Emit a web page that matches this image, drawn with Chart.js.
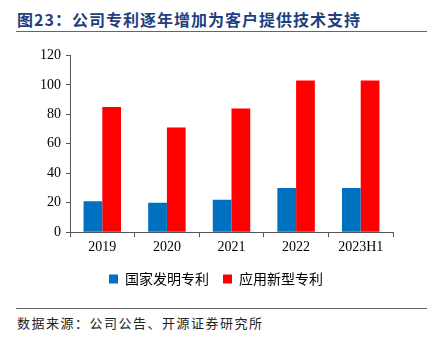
<!DOCTYPE html>
<html>
<head>
<meta charset="utf-8">
<script src="https://cdn.jsdelivr.net/npm/chart.js@4"></script>
<style>
  body { margin: 0; width: 432px; height: 338px; background: #fff; position: relative; overflow: hidden; }
  .title { position: absolute; left: 17px; top: 7px; font: bold 16px "Noto Sans CJK SC"; color: #1f3f7f; letter-spacing: 1px; }
  .rule { position: absolute; left: 16px; width: 411px; height: 1px; background: #666; }
  .source { position: absolute; left: 17px; top: 313px; font: 13px "Noto Sans CJK SC"; color: #222; letter-spacing: 1.5px; }
  #wrap { position: absolute; left: 0; top: 42px; width: 432px; height: 254px; }
</style>
</head>
<body>
<div class="title">图23：公司专利逐年增加为客户提供技术支持</div>
<div class="rule" style="top:31px"></div>
<div id="wrap"><canvas id="c"></canvas></div>
<div class="rule" style="top:308px"></div>
<div class="source">数据来源：公司公告、开源证券研究所</div>
<script>
const years = ['2019', '2020', '2021', '2022', '2023H1'];
const invention = [21, 20, 22, 30, 30];
const utility = [85, 71, 84, 103, 103];
const yTicks = [0, 20, 40, 60, 80, 100, 120];

const tickFont = { family: '"Liberation Serif"', size: 14 };

new Chart(document.getElementById('c'), {
  type: 'bar',
  data: {
    labels: years,
    datasets: [
      { label: '国家发明专利', data: invention, backgroundColor: '#0070c0' },
      { label: '应用新型专利', data: utility, backgroundColor: '#ff0000' }
    ]
  },
  options: {
    responsive: true,
    maintainAspectRatio: false,
    animation: false,
    layout: { padding: { left: 0, right: 0, top: 2, bottom: 0 } },
    datasets: { bar: { categoryPercentage: 0.58, barPercentage: 1 } },
    scales: {
      x: {
        grid: { display: true, drawOnChartArea: false, tickLength: 5, color: '#555' },
        border: { color: '#555' },
        ticks: { color: '#000', font: tickFont, padding: 2 }
      },
      y: {
        min: 0,
        max: 120,
        afterFit: (s) => { s.width = 70; },
        afterBuildTicks: (s) => { s.ticks = yTicks.map(v => ({ value: v })); },
        grid: { display: true, drawOnChartArea: false, tickLength: 4, color: '#555' },
        border: { color: '#555' },
        ticks: { color: '#000', font: tickFont, padding: 5 }
      },
      // empty right-hand axis, only reserves the blank margin right of the plot
      yRight: {
        position: 'right',
        min: 0,
        max: 120,
        afterFit: (s) => { s.width = 39; },
        grid: { display: false },
        border: { display: false },
        ticks: { display: false }
      }
    },
    plugins: {
      legend: {
        position: 'bottom',
        labels: { boxWidth: 9, boxHeight: 9, padding: 14, color: '#000', font: { family: '"Noto Sans CJK SC"', size: 14 } }
      },
      tooltip: { enabled: false }
    }
  }
});
</script>
</body>
</html>
